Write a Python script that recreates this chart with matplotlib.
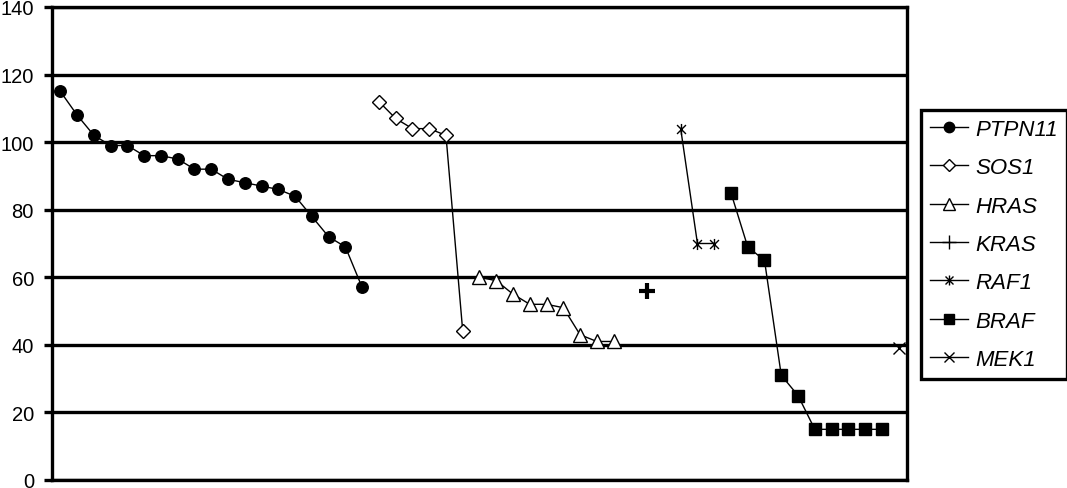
import matplotlib
matplotlib.use("Agg")
import matplotlib.pyplot as plt
from matplotlib.path import Path
import numpy as np

plt.rcParams['font.family'] = ['Liberation Sans', 'DejaVu Sans']

# ---- data ----
series_names = ["PTPN11", "SOS1", "HRAS", "KRAS", "RAF1", "BRAF", "MEK1"]
ptpn11 = [115, 108, 102, 99, 99, 96, 96, 95, 92, 92, 89, 88, 87, 86, 84, 78, 72, 69, 57]
sos1 = [112, 107, 104, 104, 102, 44]
hras = [60, 59, 55, 52, 52, 51, 43, 41, 41]
kras = [56]
raf1 = [104, 70, 70]
braf = [85, 69, 65, 31, 25, 15, 15, 15, 15, 15]
mek1 = [39]
# sample index at which each series begins (51 samples, some without value)
series_start = [0, 19, 25, 35, 37, 40, 50]
n_samples = 51
y_ticks = [0, 20, 40, 60, 80, 100, 120, 140]

values = [ptpn11, sos1, hras, kras, raf1, braf, mek1]

# ---- styling ----
star = Path([(0, -1), (0, 1), (-0.8, -0.8), (0.8, 0.8), (-0.8, 0.8), (0.8, -0.8)],
            [Path.MOVETO, Path.LINETO] * 3)
styles = [
    dict(marker='o', ms=8.3, mfc='black', mec='black', mew=1),
    dict(marker='D', ms=7.3, mfc='white', mec='black', mew=1),
    dict(marker='^', ms=9.5, mfc='white', mec='black', mew=1),
    dict(marker='+', ms=11, mfc='black', mec='black', mew=3),
    dict(marker=star, ms=8, mfc='none', mec='black', mew=1),
    dict(marker='s', ms=8.5, mfc='black', mec='black', mew=1),
    dict(marker='x', ms=8, mfc='black', mec='black', mew=1),
]

fig = plt.figure(figsize=(10.67, 4.89), dpi=100)
ax = fig.add_axes([52 / 1067, 8 / 489, (907 - 52) / 1067, (481 - 8) / 489])

for name, vals, start, st in zip(series_names, values, series_start, styles):
    x = np.arange(start, start + len(vals))
    ax.plot(x, vals, color='black', lw=1, label=name, clip_on=False, zorder=3, **st)

ax.set_xlim(-0.5, n_samples - 0.5)
ax.set_ylim(0, 140)
ax.set_yticks(y_ticks)
ax.set_xticks([])
ax.yaxis.grid(True, color='black', lw=2.4)
ax.set_axisbelow(True)
for s in ax.spines.values():
    s.set_linewidth(2.4)
    s.set_color('black')
ax.tick_params(axis='y', length=6, width=2.4, pad=7, labelsize=14.5, colors='black')

leg = ax.legend(loc='upper left', bbox_to_anchor=(921 / 1067, 1 - 111 / 489),
                bbox_transform=fig.transFigure, frameon=True, fancybox=False,
                edgecolor='black', framealpha=1, borderpad=0.4,
                labelspacing=0.78, handlelength=1.7, handletextpad=0.35,
                borderaxespad=0,
                prop={'style': 'italic', 'size': 16})
leg.get_frame().set_linewidth(2.4)
for ln in leg.get_lines():
    ln.set_markeredgewidth(1)
    ln.set_markersize(ln.get_markersize() * 0.9)

fig.savefig("out.png", dpi=100)
